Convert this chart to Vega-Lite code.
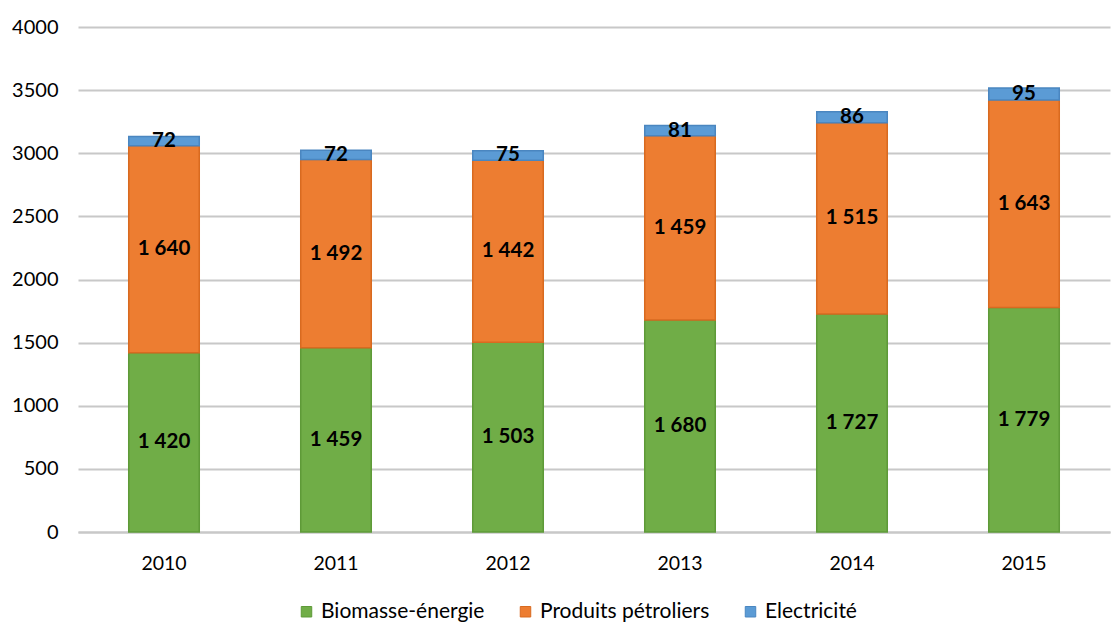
{
  "$schema": "https://vega.github.io/schema/vega-lite/v6.json",
  "autosize": {"type": "none"},
  "width": 1032,
  "height": 505,
  "padding": {"left": 78, "top": 27, "right": 3, "bottom": 93},
  "background": "white",
  "config": {
    "locale": {"number": {"decimal": ",", "thousands": " ", "grouping": [3], "currency": ["", ""]}},
    "view": {"stroke": null},
    "font": "Lato"
  },
  "data": {
    "values": [
      {"year": "2010", "series": "Biomasse-énergie", "ord": 1, "value": 1420},
      {"year": "2010", "series": "Produits pétroliers", "ord": 2, "value": 1640},
      {"year": "2010", "series": "Electricité", "ord": 3, "value": 72},
      {"year": "2011", "series": "Biomasse-énergie", "ord": 1, "value": 1459},
      {"year": "2011", "series": "Produits pétroliers", "ord": 2, "value": 1492},
      {"year": "2011", "series": "Electricité", "ord": 3, "value": 72},
      {"year": "2012", "series": "Biomasse-énergie", "ord": 1, "value": 1503},
      {"year": "2012", "series": "Produits pétroliers", "ord": 2, "value": 1442},
      {"year": "2012", "series": "Electricité", "ord": 3, "value": 75},
      {"year": "2013", "series": "Biomasse-énergie", "ord": 1, "value": 1680},
      {"year": "2013", "series": "Produits pétroliers", "ord": 2, "value": 1459},
      {"year": "2013", "series": "Electricité", "ord": 3, "value": 81},
      {"year": "2014", "series": "Biomasse-énergie", "ord": 1, "value": 1727},
      {"year": "2014", "series": "Produits pétroliers", "ord": 2, "value": 1515},
      {"year": "2014", "series": "Electricité", "ord": 3, "value": 86},
      {"year": "2015", "series": "Biomasse-énergie", "ord": 1, "value": 1779},
      {"year": "2015", "series": "Produits pétroliers", "ord": 2, "value": 1643},
      {"year": "2015", "series": "Electricité", "ord": 3, "value": 95}
    ]
  },
  "transform": [
    {"stack": "value", "groupby": ["year"], "sort": [{"field": "ord"}], "as": ["v0", "v1"]}
  ],
  "encoding": {
    "x": {
      "field": "year", "type": "nominal", "title": null,
      "scale": {"paddingInner": 0.59, "paddingOuter": 0.295},
      "axis": {"labelAngle": 0, "labelFontSize": 19.5, "labelColor": "#000", "labelPadding": 22, "ticks": false, "domainColor": "#c8c8c8", "domainWidth": 2}
    }
  },
  "layer": [
    {
      "mark": {"type": "bar", "strokeWidth": 1.5},
      "encoding": {
        "y": {
          "field": "v0", "type": "quantitative", "title": null,
          "scale": {"domain": [0, 4000], "nice": false},
          "axis": {"values": [0, 500, 1000, 1500, 2000, 2500, 3000, 3500, 4000], "format": "d", "labelFontSize": 20, "labelColor": "#000", "labelPadding": 20, "ticks": false, "domain": false, "gridColor": "#c8c8c8", "gridWidth": 2}
        },
        "y2": {"field": "v1"},
        "color": {
          "field": "series", "type": "nominal", "title": null,
          "sort": ["Biomasse-énergie", "Produits pétroliers", "Electricité"],
          "scale": {"domain": ["Biomasse-énergie", "Produits pétroliers", "Electricité"], "range": ["#70AD47", "#ED7D31", "#5B9BD5"]},
          "legend": {"orient": "none", "legendX": 218, "legendY": 574, "direction": "horizontal", "labelFontSize": 21, "labelLimit": 400, "labelColor": "#000", "symbolType": "square", "symbolSize": 110, "symbolStrokeWidth": 1, "columnPadding": 30, "labelOffset": 4}
        },
        "stroke": {
          "field": "series", "type": "nominal", "legend": null,
          "scale": {"domain": ["Biomasse-énergie", "Produits pétroliers", "Electricité"], "range": ["#5E9A38", "#D86A20", "#4A86C0"]}
        }
      }
    },
    {
      "transform": [
        {"fold": ["v0", "v1"], "as": ["k", "pos"]},
        {"aggregate": [{"op": "mean", "field": "pos", "as": "mid"}], "groupby": ["year", "series", "value"]}
      ],
      "mark": {"type": "text", "fontWeight": "bold", "fontSize": 20.5, "color": "#000", "baseline": "middle"},
      "encoding": {
        "y": {"field": "mid", "type": "quantitative"},
        "text": {"field": "value", "type": "quantitative", "format": ",d"}
      }
    }
  ]
}
